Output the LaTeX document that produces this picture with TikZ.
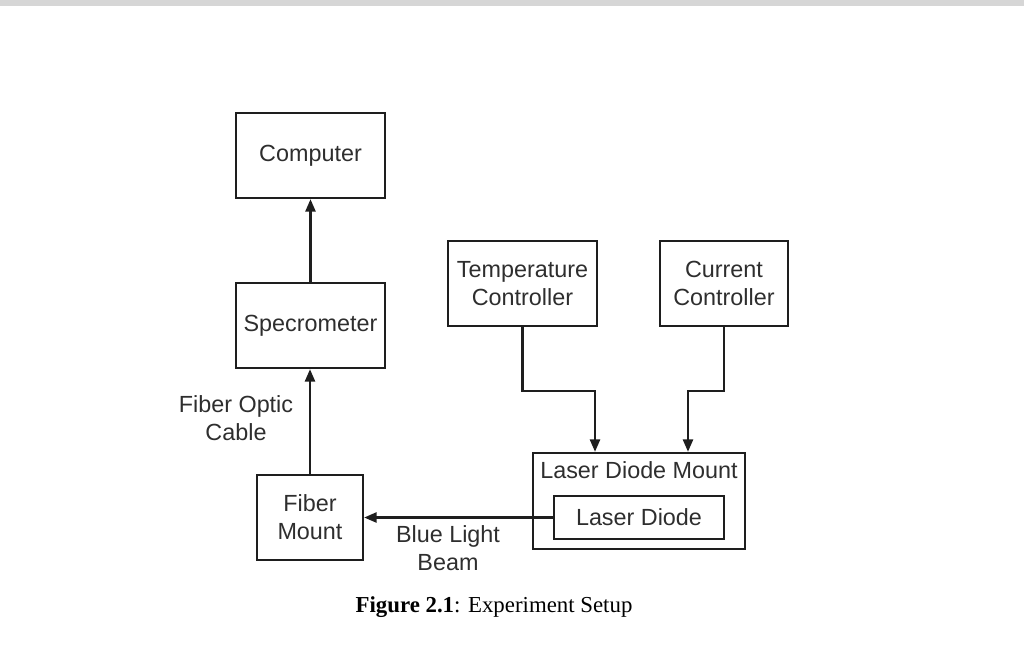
\documentclass[tikz,border=0pt]{standalone}
\usepackage{fontspec}
\setmainfont{Liberation Serif}
\setsansfont{Liberation Sans}
\usetikzlibrary{arrows.meta}
\definecolor{linegray}{HTML}{1E1E1E}
\definecolor{textgray}{HTML}{2E2E2E}
\definecolor{topgray}{HTML}{D6D6D6}

\begin{document}
\begin{tikzpicture}[x=0.02cm,y=-0.02cm]
\tikzstyle{every node}+=[inner sep=0pt]
\tikzstyle{txt}=[font=\sffamily\fontsize{13.3}{16}\selectfont, text=textgray, align=center]
\tikzstyle{blk}=[txt, draw=linegray, line width=1.3pt, minimum height=1.7cm]
\tikzstyle{conn}=[draw=linegray, line width=1.4pt, -{Triangle[length=0.25cm,width=0.2cm]}]
\useasboundingbox (0,0) rectangle (1024,659);
\fill [topgray] (0,0) rectangle (1024,6);
% boxes
\node [blk, minimum width=2.98cm] (comp) at (310.5,155.5) {Computer};
\node [blk, minimum width=2.98cm] (spec) at (310.5,325.5) {Specrometer};
\node [blk, minimum width=2.12cm] (fmount) at (310,517.5) {Fiber\\Mount};
\node [blk, minimum width=2.98cm] (temp) at (522.5,283.5) {Temperature\\Controller};
\node [blk, minimum width=2.56cm] (cur) at (724,283.5) {Current\\Controller};
\node [blk, minimum width=4.24cm, minimum height=1.92cm] (ldm) at (639,501) {};
\node [txt] (ldmlbl) at (639,470) {Laser Diode Mount};
\node [blk, minimum width=3.4cm, minimum height=0.86cm] (ld) at (639,517.5) {Laser Diode};
% labels
\node [txt] (fiblbl) at (236,418) {Fiber Optic\\Cable};
\node [txt] (beamlbl) at (448,548) {Blue Light\\Beam};
% connectors
\draw [conn] (spec.north) -- (comp.south);
\draw [conn] (fmount.north) -- (fmount.north |- spec.south);
\draw [conn] (temp.south) -- ++(0,64) -| ([xshift=-0.88cm]ldm.north);
\draw [conn] (cur.south) -- ++(0,64) -| ([xshift=0.98cm]ldm.north);
\draw [conn] (ld.west) -- (fmount.east);
% caption
\node [font=\fontsize{13}{16}\selectfont] (cap) at (494,607) {\textbf{Figure 2.1}: Experiment Setup};
\end{tikzpicture}
\end{document}
